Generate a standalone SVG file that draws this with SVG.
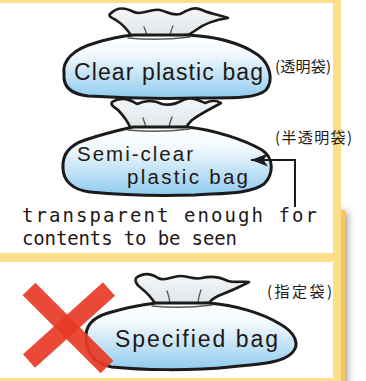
<svg xmlns="http://www.w3.org/2000/svg" width="366" height="381" viewBox="0 0 366 381">
  <defs>
    <linearGradient id="bagFill" x1="0" y1="0" x2="0" y2="1">
      <stop offset="0" stop-color="#ffffff"/>
      <stop offset="0.3" stop-color="#f2f9fd"/>
      <stop offset="1" stop-color="#8fcbee"/>
    </linearGradient>
    <linearGradient id="knotFill" x1="0" y1="0" x2="0" y2="1">
      <stop offset="0" stop-color="#f4f6f7"/>
      <stop offset="1" stop-color="#dfe5e8"/>
    </linearGradient>
    <filter id="soft" x="-1" y="-0.2" width="3" height="1.4">
      <feGaussianBlur stdDeviation="4"/>
    </filter>
    <marker id="arrowHead" viewBox="0 0 18 14" refX="17" refY="7" markerWidth="18" markerHeight="14" markerUnits="userSpaceOnUse" orient="auto">
      <path d="M17,7 L0,0.5 L4.5,7 L0,13.5 Z" fill="#1b1b1b"/>
    </marker>
    <style>
      .body { fill: url(#bagFill); stroke: #1b1b1b; stroke-width: 3; stroke-linejoin: round; }
      .knot { fill: url(#knotFill); stroke: #1b1b1b; stroke-width: 2.6; stroke-linejoin: round; }
      .tie { fill: none; stroke: #5a5a5a; stroke-width: 1.4; stroke-linecap: round; }
      .label { font-family: "Liberation Sans", Arial, sans-serif; font-size: 23px; fill: #231815; }
      .label.two { font-size: 20.5px; }
      .jp { font-family: "Noto Sans CJK JP", "Noto Sans", sans-serif; font-size: 15px; fill: #231815; }
      .mono { font-family: "DejaVu Sans Mono", "Liberation Mono", monospace; font-size: 19px; fill: #231815; }
      .link { fill: none; stroke: #1b1b1b; stroke-width: 2; }
      .cross { stroke: #e83a25; stroke-width: 18; stroke-linecap: butt; opacity: 0.92; }
    </style>
  </defs>

  <!-- page background and card frame -->
  <rect x="0" y="0" width="366" height="381" fill="#ffffff"/>
  <rect x="337" y="212" width="10" height="178" fill="#8f8f8f" filter="url(#soft)"/>
  <rect x="0" y="0" width="341" height="381" fill="#fddf8b"/>
  <rect x="341" y="210" width="4" height="171" fill="#f8c55c"/>
  <rect x="0" y="3" width="333" height="250" fill="#ffffff"/>
  <rect x="0" y="262" width="333" height="116" fill="#ffffff"/>

  <!-- clear plastic bag -->
  <g id="clear-bag">
    <path class="knot" d="M110,14 C118,6 126,8 134,12 C142,16 150,8 160,10 C168,12 172,16 180,14 C188,10 194,6 202,10 C210,14 218,14 228,18 C214,20 204,24 196,30 C192,33 188,35 186,37 L132,37 C128,30 122,24 116,20 C112,18 108,16 110,14 Z"/>
    <path class="tie" d="M144,27 Q146,31 147,36 M173,26 Q171,30 170,35 M130,35 Q158,39 188,34"/>
    <path class="body" d="M64,74 C62,60 74,49 95,43 C108,39 122,36 134,35 L186,35 C212,36 240,42 258,55 C270,64 274,80 266,90 C256,99 230,98 200,98 C160,99 120,98 88,96 C70,94 63,86 64,74 Z"/>
    <path class="tie" d="M128,38 Q158,41 190,37"/>
    <text class="label" x="74" y="80" textLength="189">Clear plastic bag</text>
    <text class="jp" x="275" y="72" textLength="56">(透明袋)</text>
  </g>

  <!-- semi-clear plastic bag -->
  <g id="semi-clear-bag">
    <path class="knot" d="M112,102 C120,97 128,98 137,104 C146,100 154,100 162,104 C170,106 176,104 183,100 C190,96 198,100 205,103 C212,100 216,100 221,103 C212,108 200,114 192,120 C188,124 186,127 185,129 L131,129 C128,122 124,116 118,110 C114,107 110,105 112,102 Z"/>
    <path class="tie" d="M143,118 Q145,123 146,128 M172,117 Q170,122 169,127 M130,127 Q158,131 187,126"/>
    <path class="body" d="M63,168 C62,154 70,145 85,140 C100,135 115,131 133,127 L187,127 C215,130 245,140 262,150 C274,158 274,174 264,184 C250,194 225,193 195,195 C160,196 120,195 90,192 C72,190 63,180 63,168 Z"/>
    <path class="tie" d="M128,130 Q158,133 190,129"/>
    <text class="label two" x="77" y="161" textLength="116">Semi-clear</text>
    <text class="label two" x="127" y="184" textLength="121">plastic bag</text>
    <text class="jp" x="275" y="143" textLength="77">(半透明袋)</text>
  </g>

  <!-- note about transparency -->
  <g id="note">
    <text class="mono" x="22" y="222" textLength="295">transparent enough for</text>
    <text class="mono" x="22" y="245" textLength="215">contents to be seen</text>
  </g>

  <!-- specified bag, crossed out -->
  <g id="specified-bag">
    <path class="knot" d="M136,278 C144,272 152,274 158,278 C165,282 172,276 180,276 C188,276 194,280 202,278 C210,276 218,276 228,281 C236,283 242,281 249,282 C240,287 228,292 218,296 C212,299 209,302 208,305 L156,305 C152,298 146,292 141,288 C137,285 134,282 136,278 Z"/>
    <path class="tie" d="M167,291 Q169,296 170,303 M201,290 Q199,295 198,302 M155,303 Q182,307 210,302"/>
    <path class="body" d="M86,338 C85,325 95,317 108,313 C125,308 140,305 156,303 L208,303 C235,305 262,313 280,324 C296,333 300,345 292,353 C282,363 260,364 230,367 C190,371 140,370 112,367 C94,364 86,352 86,338 Z"/>
    <path class="tie" d="M152,306 Q182,309 212,305"/>
    <text class="label" x="115" y="347" textLength="163">Specified bag</text>
    <text class="jp" x="267" y="297" textLength="65">(指定袋)</text>
  </g>

  <g id="cross">
    <line class="cross" x1="29" y1="289" x2="107" y2="367"/>
    <line class="cross" x1="109" y1="289" x2="29" y2="361"/>
  </g>

  <!-- connectors -->
  <g id="connectors">
    <polyline class="link" points="295,207 295,160 251,160" marker-end="url(#arrowHead)"/>
  </g>
</svg>
